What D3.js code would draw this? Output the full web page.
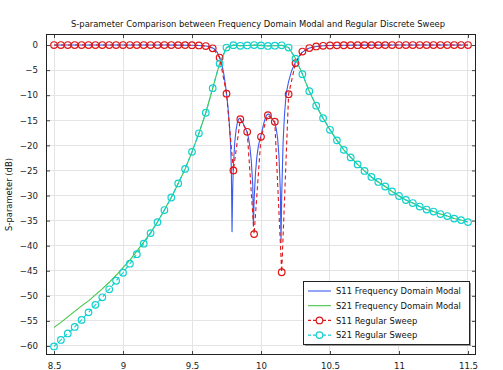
<!DOCTYPE html>
<html><head><meta charset="utf-8">
<script src="https://cdn.jsdelivr.net/npm/d3@7/dist/d3.min.js"></script>
<style>body{margin:0;background:#fff}svg{display:block}</style>
</head><body>
<script>
// ---- data ----
const title = "S-parameter Comparison between Frequency Domain Modal and Regular Discrete Sweep";
const yLabel = "S-parameter (dB)";
const xTicks = [8.5, 9, 9.5, 10, 10.5, 11, 11.5];
const yTicks = [0, -5, -10, -15, -20, -25, -30, -35, -40, -45, -50, -55, -60];
const seriesNames = ["S11 Frequency Domain Modal", "S21 Frequency Domain Modal", "S11 Regular Sweep", "S21 Regular Sweep"];

const sweepFreq = [8.5,8.55,8.6,8.65,8.7,8.75,8.8,8.85,8.9,8.95,9.0,9.05,9.1,9.15,9.2,9.25,9.3,9.35,9.4,9.45,
  9.5,9.55,9.6,9.65,9.7,9.75,9.8,9.85,9.9,9.95,10.0,10.05,10.1,10.15,10.2,10.25,10.3,10.35,10.4,10.45,
  10.5,10.55,10.6,10.65,10.7,10.75,10.8,10.85,10.9,10.95,11.0,11.05,11.1,11.15,11.2,11.25,11.3,11.35,11.4,11.45,11.5];

const s11Sweep = [0,0,0,0,0,0,0,0,0,0,0,0,0,0,0,0,0,-0.004,-0.01,-0.015,
  -0.03,-0.08,-0.2,-0.65,-2.5,-9.7,-25.0,-14.8,-17.3,-37.7,-18.3,-14.0,-15.3,-45.3,-9.8,-3.6,-1.3,-0.6,-0.28,-0.15,
  -0.09,-0.06,-0.04,-0.03,-0.02,-0.014,-0.01,-0.01,-0.01,-0.005,-0.004,0,0,0,0,0,0,0,0,0,0];

const s21Sweep = [-60.1,-58.8,-57.5,-56.2,-54.8,-53.3,-51.8,-50.3,-48.7,-47.0,-45.4,-43.6,-41.7,-39.6,-37.5,-35.3,-32.9,-30.4,-27.6,-24.7,
  -21.3,-17.6,-13.5,-8.6,-3.7,-0.5,-0.02,-0.15,-0.08,0,-0.07,-0.18,-0.13,-0.05,-0.5,-2.7,-5.8,-9.2,-12.1,-14.6,
  -16.9,-19.0,-20.9,-22.4,-23.8,-25.1,-26.3,-27.3,-28.2,-29.2,-30.1,-30.9,-31.5,-32.2,-32.8,-33.2,-33.7,-34.1,-34.6,-34.9,-35.3];

const s21Modal = [-56.3,-55.3,-54.2,-53.1,-52.0,-51.0,-49.8,-48.6,-47.3,-45.9,-44.4,-42.9,-41.1,-39.3,-37.4,-35.3,-32.9,-30.4,-27.6,-24.7,
  -21.3,-17.6,-13.5,-8.6,-3.7,-0.5,-0.02,-0.15,-0.08,0,-0.07,-0.18,-0.13,-0.05,-0.5,-2.7,-5.8,-9.2,-12.1,-14.6,
  -16.9,-19.0,-20.9,-22.4,-23.8,-25.1,-26.3,-27.3,-28.2,-29.2,-30.1,-30.9,-31.5,-32.2,-32.8,-33.2,-33.7,-34.1,-34.6,-34.9,-35.3];

const s11ModalFreq = [8.5,9.0,9.3,9.4,9.5,9.55,9.6,9.62,9.64,9.66,9.68,9.70,9.71,9.72,9.73,9.74,9.75,9.76,9.77,9.78,9.785,9.79,9.795,
  9.80,9.81,9.82,9.83,9.84,9.845,9.85,9.86,9.87,9.88,9.89,9.90,9.91,9.92,9.93,9.94,9.945,9.95,9.96,9.97,9.98,9.99,
  10.00,10.01,10.02,10.03,10.04,10.05,10.055,10.06,10.07,10.08,10.09,10.10,10.11,10.12,10.13,10.14,10.145,10.15,10.16,10.17,10.18,10.19,
  10.20,10.22,10.24,10.26,10.28,10.30,10.33,10.35,10.4,10.45,10.5,10.6,10.7,10.8,11.0,11.5];
const s11Modal = [0,0,0,-0.01,-0.03,-0.08,-0.2,-0.3,-0.45,-0.75,-1.3,-2.4,-3.2,-4.3,-5.7,-7.5,-9.6,-12.2,-15.5,-20.0,-24.5,-37.3,-28.5,
  -24.0,-19.3,-16.8,-15.3,-14.7,-14.6,-14.65,-15.0,-15.6,-16.2,-16.8,-17.4,-18.6,-20.4,-23.2,-27.8,-36.2,-31.0,-25.5,-22.3,-20.3,-19.0,
  -18.0,-16.8,-15.6,-14.7,-14.0,-13.75,-13.75,-13.85,-14.2,-14.7,-15.1,-15.6,-16.6,-18.5,-22.0,-29.0,-39.5,-30.0,-19.5,-14.0,-10.5,-8.6,
  -7.3,-5.3,-4.0,-3.0,-2.1,-1.4,-0.9,-0.6,-0.28,-0.15,-0.09,-0.04,-0.02,-0.01,0,0];

// ---- drawing ----
const W = 503, H = 370;
const L = 46, R = 476, T = 34, B = 355;
const FONT = "'DejaVu Sans', sans-serif";
const svg = d3.select("body").append("svg").attr("width", W).attr("height", H)
  .style("font-family", FONT);

const x = d3.scaleLinear().domain([8.442, 11.558]).range([L, R]);
const y = d3.scaleLinear().domain([2.2, -61.8]).range([T, B]);

const colors = { s11m: "#3a5cf0", s21m: "#44c444", s11s: "#e01515", s21s: "#10d0d0" };

// grid
const g = svg.append("g");
g.selectAll(".gx").data(xTicks).enter().append("line")
  .attr("x1", d => x(d)).attr("x2", d => x(d)).attr("y1", T).attr("y2", B)
  .attr("stroke", "#e4e4e4").attr("stroke-width", 1).attr("shape-rendering", "crispEdges");
g.selectAll(".gy").data(yTicks).enter().append("line")
  .attr("y1", d => y(d)).attr("y2", d => y(d)).attr("x1", L).attr("x2", R)
  .attr("stroke", "#e4e4e4").attr("stroke-width", 1).attr("shape-rendering", "crispEdges");

// axes with inward ticks on all sides
const tickFont = "8.6px";
const axB = svg.append("g").attr("transform", `translate(0,${B})`)
  .call(d3.axisBottom(x).tickValues(xTicks).tickSize(-4).tickPadding(8).tickFormat(d3.format("")));
const axT = svg.append("g").attr("transform", `translate(0,${T})`)
  .call(d3.axisTop(x).tickValues(xTicks).tickSize(-4).tickFormat(""));
const axL = svg.append("g").attr("transform", `translate(${L},0)`)
  .call(d3.axisLeft(y).tickValues(yTicks).tickSize(-4).tickPadding(8).tickFormat(d3.format("")));
const axR = svg.append("g").attr("transform", `translate(${R},0)`)
  .call(d3.axisRight(y).tickValues(yTicks).tickSize(-4).tickFormat(""));
[axB, axT, axL, axR].forEach(a => {
  a.select(".domain").remove();
  a.selectAll("line").attr("stroke", "#444");
  a.selectAll("text").attr("font-size", tickFont).attr("fill", "#222").attr("font-family", FONT);
});

// clip
svg.append("clipPath").attr("id", "clip").append("rect")
  .attr("x", L).attr("y", T).attr("width", R - L).attr("height", B - T);
const plot = svg.append("g").attr("clip-path", "url(#clip)");

const line = d3.line().x(d => x(d[0])).y(d => y(d[1]));
const zip = (a, b) => a.map((v, i) => [v, b[i]]);

plot.append("path").datum(zip(s11ModalFreq, s11Modal)).attr("d", line)
  .attr("fill", "none").attr("stroke", colors.s11m).attr("stroke-width", 1.1);
plot.append("path").datum(zip(sweepFreq, s21Modal)).attr("d", line)
  .attr("fill", "none").attr("stroke", colors.s21m).attr("stroke-width", 1.1);

function sweep(vals, col) {
  const data = zip(sweepFreq, vals);
  plot.append("path").datum(data).attr("d", line)
    .attr("fill", "none").attr("stroke", col).attr("stroke-width", 1.1).attr("stroke-dasharray", "4,3");
  plot.selectAll(null).data(data).enter().append("circle")
    .attr("cx", d => x(d[0])).attr("cy", d => y(d[1])).attr("r", 3.3)
    .attr("fill", "none").attr("stroke", col).attr("stroke-width", 1.2);
}
sweep(s11Sweep, colors.s11s);
sweep(s21Sweep, colors.s21s);

// frame
svg.append("rect").attr("x", L + 0.5).attr("y", T + 0.5).attr("width", R - L - 1).attr("height", B - T - 1)
  .attr("fill", "none").attr("stroke", "#222").attr("stroke-width", 1);

// title
svg.append("text").attr("x", 258).attr("y", 27).attr("text-anchor", "middle")
  .attr("font-size", "8.4px").attr("fill", "#111").text(title);
// y label
svg.append("text").attr("transform", `translate(12,${(T + B) / 2}) rotate(-90)`)
  .attr("text-anchor", "middle").attr("font-size", "8.4px").attr("fill", "#111").text(yLabel);

// legend
const lx = 303, ly = 281, lw = 166, lh = 63;
svg.append("rect").attr("x", lx + 2).attr("y", ly + 2).attr("width", lw).attr("height", lh).attr("fill", "#999");
svg.append("rect").attr("x", lx + 0.5).attr("y", ly + 0.5).attr("width", lw).attr("height", lh)
  .attr("fill", "#fff").attr("stroke", "#222").attr("stroke-width", 1);
const legCols = [colors.s11m, colors.s21m, colors.s11s, colors.s21s];
seriesNames.forEach((name, i) => {
  const yy = ly + 10 + i * 14.7;
  const row = svg.append("g");
  row.append("line").attr("x1", lx + 5).attr("x2", lx + 28).attr("y1", yy).attr("y2", yy)
    .attr("stroke", legCols[i]).attr("stroke-width", 1.1)
    .attr("stroke-dasharray", i >= 2 ? "3,2" : null);
  if (i >= 2) row.append("circle").attr("cx", lx + 16.5).attr("cy", yy).attr("r", 3.3)
    .attr("fill", "#fff").attr("stroke", legCols[i]).attr("stroke-width", 1.2);
  row.append("text").attr("x", lx + 33).attr("y", yy + 3.2).attr("font-size", "8.4px").attr("fill", "#111").text(name);
});
</script>
</body></html>
